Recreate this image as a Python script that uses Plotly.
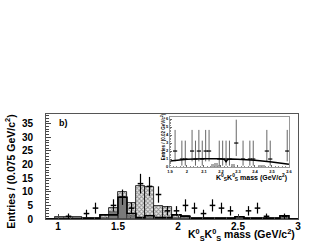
import plotly.graph_objects as go

# ---------------- main histogram data (bins of 0.075 GeV from 0.9 to 3.0) ----------------
bin_low = 0.9
bin_w = 0.075
n_bins = 28
bin_centers = [round(bin_low + bin_w * (i + 0.5), 4) for i in range(n_bins)]
bin_edges = [round(bin_low + bin_w * i, 4) for i in range(n_bins + 1)]

hatched_total = [0, 0.7, 0.7, 0.7, 0.3, 0.3, 1.5, 4.0, 10.0, 6.0, 12.0, 11.7, 4.8, 4.5,
                 1.5, 1.0, 0.5, 0.3, 0.3, 0.3, 0.3, 0.8, 0.5, 0.3, 0.2, 0.2, 1.2, 0]
dark_fill = [0, 0.7, 0.7, 0.7, 0.2, 0.2, 0.5, 2.7, 8.0, 1.0, 0.5, 0.5, 0.3, 0.3,
             0.5, 0.3, 0.3, 0.2, 0.2, 0.2, 0.2, 0.5, 0.3, 0.2, 0.1, 0.1, 0.6, 0]
outline = [0, 0, 0, 0, 0.3, 0.3, 1.5, 1.5, 8.0, 2.0, 0.5, 1.2, 0.5, 0.5,
           1.5, 1.0, 0.3, 0.3, 0.3, 0.3, 0.3, 0.8, 0.3, 0.3, 0.3, 0.3, 1.2, 0]
data_counts = [0, 0, 1, 0, 2, 4, 0, 5, 8, 4, 13, 12, 9, 3,
               3, 5, 4, 2, 5, 4, 3, 0, 3, 4, 1, 0, 1, 0]

x_ticks = [1, 1.5, 2, 2.5, 3]
x_tick_text = ["1", "1.5", "2", "2.5", "3"]
y_ticks = [0, 5, 10, 15, 20, 25, 30, 35]

# ---------------- inset data (bins of 0.02 GeV) ----------------
inset_x = [1.93, 1.97, 1.99, 2.03, 2.05, 2.07, 2.09, 2.11, 2.13, 2.19, 2.21, 2.23,
           2.25, 2.29, 2.33, 2.37, 2.39, 2.47, 2.49, 2.59]
inset_y = [2, 1, 1, 2, 1, 2, 1, 2, 2, 1, 1, 1, 1, 3, 1, 1, 1, 2, 1, 2]
poisson_up = {1: 2.30, 2: 2.64, 3: 2.92}
poisson_dn = {1: 0.83, 2: 1.29, 3: 1.63}
inset_err_up = [poisson_up[v] for v in inset_y]
inset_err_dn = [poisson_dn[v] for v in inset_y]

curve_x = [1.90, 1.95, 2.00, 2.10, 2.20, 2.22, 2.23, 2.24, 2.26, 2.30, 2.40, 2.50, 2.60]
curve_y = [0.75, 0.88, 0.96, 1.02, 1.04, 0.95, 0.65, 0.95, 1.0, 0.97, 0.85, 0.62, 0.35]

inset_hist_x = [2.15, 2.17, 2.19, 2.27, 2.43, 2.45]
inset_hist_y = [0.4, 0.5, 0.3, 0.4, 0.3, 0.3]

inset_x_ticks = [1.9, 2.0, 2.1, 2.2, 2.3, 2.4, 2.5, 2.6]
inset_x_text = ["1.9", "2", "2.1", "2.2", "2.3", "2.4", "2.5", "2.6"]
inset_y_ticks = [0, 1, 2, 3, 4, 5, 6]

FONT = "Liberation Sans"
KK = "K<sup>0</sup><sub>S</sub>K<sup>0</sup><sub>S</sub>"

fig = go.Figure()

# hatched total histogram
fig.add_trace(go.Bar(
    x=bin_centers, y=hatched_total, width=bin_w,
    marker=dict(color="white", line=dict(color="black", width=0.8),
                pattern=dict(shape="x", fgcolor="#333", bgcolor="#e6e6e6", size=3, solidity=0.5)),
    xaxis="x", yaxis="y", showlegend=False))
# dark filled component
fig.add_trace(go.Bar(
    x=bin_centers, y=dark_fill, width=bin_w,
    marker=dict(color="#7a7a7a", line=dict(color="#333", width=0.6)),
    xaxis="x", yaxis="y", showlegend=False))
# black outline histogram
fig.add_trace(go.Scatter(
    x=bin_edges, y=outline + [outline[-1]], mode="lines", line_shape="hv",
    line=dict(color="black", width=1.6), xaxis="x", yaxis="y", showlegend=False))
# data points
pts_x = [c for c, n in zip(bin_centers, data_counts) if n > 0]
pts_y = [n for n in data_counts if n > 0]
pts_e = [n ** 0.5 for n in pts_y]
fig.add_trace(go.Scatter(
    x=pts_x, y=pts_y, mode="markers",
    marker=dict(symbol="line-ew", size=4, line=dict(color="black", width=1.5)),
    error_y=dict(type="data", array=pts_e, color="black", thickness=1.2, width=0),
    xaxis="x", yaxis="y", showlegend=False))

# inset traces
fig.add_trace(go.Bar(
    x=inset_hist_x, y=inset_hist_y, width=0.02,
    marker=dict(color="#aaaaaa", line=dict(width=0)),
    xaxis="x2", yaxis="y2", showlegend=False))
fig.add_trace(go.Scatter(
    x=inset_x, y=inset_y, mode="markers",
    marker=dict(symbol="line-ew", size=3, line=dict(color="black", width=1.2)),
    error_y=dict(type="data", symmetric=False, array=inset_err_up, arrayminus=inset_err_dn,
                 color="#555", thickness=0.9, width=0),
    xaxis="x2", yaxis="y2", showlegend=False))
fig.add_trace(go.Scatter(
    x=curve_x, y=curve_y, mode="lines", line=dict(color="black", width=1.5),
    xaxis="x2", yaxis="y2", showlegend=False))

fig.update_layout(
    width=332, height=242,
    margin=dict(l=46, r=34, t=114, b=23, autoexpand=False),
    paper_bgcolor="white", plot_bgcolor="white",
    barmode="overlay", bargap=0,
    font=dict(family=FONT, color="black"),
    xaxis=dict(range=[0.9, 3.0], tickvals=x_ticks, ticktext=x_tick_text,
               ticks="inside", ticklen=5, tickcolor="#444", showgrid=False, zeroline=False,
               showline=True, linecolor="#555", linewidth=1, mirror=True, automargin=False,
               tickfont=dict(family=FONT, size=10, weight="bold"), ticklabelstandoff=-2,
               minor=dict(dtick=0.1, ticks="inside", ticklen=2.5, tickcolor="#444")),
    yaxis=dict(range=[0, 38.6], tickvals=y_ticks,
               ticks="inside", ticklen=5, tickcolor="#444", showgrid=False, zeroline=False,
               showline=True, linecolor="#555", linewidth=1, mirror=True, automargin=False,
               tickfont=dict(family=FONT, size=10, weight="bold"), ticklabelstandoff=10,
               minor=dict(dtick=1, ticks="inside", ticklen=2.5, tickcolor="#444")),
    xaxis2=dict(domain=[0.492, 0.964], anchor="y2", range=[1.9, 2.6],
                tickvals=inset_x_ticks, ticktext=inset_x_text, automargin=False,
                ticks="inside", ticklen=2.5, tickcolor="#666", showgrid=False, zeroline=False,
                showline=True, linecolor="#999", linewidth=1, mirror=True,
                tickfont=dict(family=FONT, size=4, weight="bold"),
                minor=dict(dtick=0.02, ticks="inside", ticklen=1.2, tickcolor="#888")),
    yaxis2=dict(domain=[0.495, 0.971], anchor="x2", range=[0, 6.25],
                tickvals=inset_y_ticks, automargin=False,
                ticks="inside", ticklen=2.5, tickcolor="#666", showgrid=False, zeroline=False,
                showline=True, linecolor="#999", linewidth=1, mirror=True,
                tickfont=dict(family=FONT, size=4, weight="bold"),
                minor=dict(dtick=0.2, ticks="inside", ticklen=1.2, tickcolor="#888")),
    annotations=[
        dict(text="Entries / (0.075 GeV/c<sup>2</sup>)", xref="paper", yref="paper",
             x=-0.143, y=0.45, xanchor="center", yanchor="middle", textangle=-90,
             showarrow=False, font=dict(family=FONT, size=10.5, weight="bold")),
        dict(text=KK + " mass (GeV/c<sup>2</sup>)",
             xref="paper", yref="paper", x=0.996, y=-0.15, xanchor="right", yanchor="middle",
             showarrow=False, font=dict(family=FONT, size=10.5, weight="bold")),
        dict(text="b)", xref="paper", yref="paper", x=0.045, y=0.915, xanchor="left",
             yanchor="middle", showarrow=False, font=dict(family=FONT, size=9, weight="bold")),
        dict(text="Entries / (0.02 GeV/c<sup>2</sup>)", xref="paper", yref="paper",
             x=0.465, y=0.78, xanchor="center", yanchor="middle", textangle=-90,
             showarrow=False, font=dict(family=FONT, size=4.5, weight="bold")),
        dict(text=KK + " mass (GeV/c<sup>2</sup>)",
             xref="paper", yref="paper", x=0.964, y=0.40, xanchor="right", yanchor="middle",
             showarrow=False, font=dict(family=FONT, size=7, weight="bold")),
    ],
)

fig.write_html("out.html", config={"displayModeBar": False},
               post_script="document.body.style.margin='0px';document.body.style.overflow='hidden';")
